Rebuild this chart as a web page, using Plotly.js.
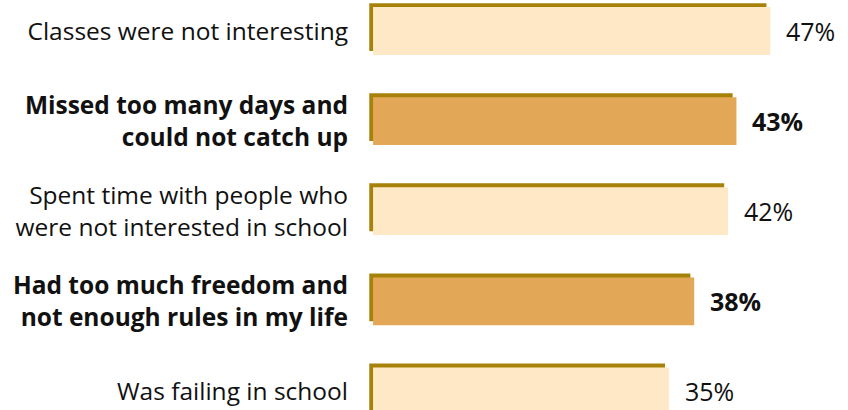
<!DOCTYPE html>
<html><head><meta charset="utf-8">
<script src="https://cdn.plot.ly/plotly-3.0.1.min.js"></script>
<style>body{margin:0;background:#fff}#c{width:848px;height:410px}</style>
</head><body><div id="c"></div>
<script>
const categories = ["Classes were not interesting","Missed too many days and<br>could not catch up","Spent time with people who<br>were not interested in school","Had too much freedom and<br>not enough rules in my life","Was failing in school"];
const values = [47, 43, 42, 38, 35];
const highlight = [false, true, false, true, false];
const valueLabels = ["47%","43%","42%","38%","35%"];

const FONT = "Open Sans, Noto Sans, sans-serif";
const lightC = "#FFE8C6", boldC = "#E3A857", edgeC = "#A7820A";
const ids = categories.map((c,i)=>"c"+i);
const tickText = categories.map((c,i)=> highlight[i] ? "<b>"+c.split("<br>").join("</b><br><b>")+"</b>" : c);

const edge = {type:"bar", orientation:"h", y:ids, x:values, base:values.map(()=>-0.45),
  width:0.53, offset:-0.265-0.044, marker:{color:edgeC, line:{width:0}}, hoverinfo:"skip"};
const main = {type:"bar", orientation:"h", y:ids, x:values, width:0.53,
  marker:{color:highlight.map(h=>h?boldC:lightC), line:{width:0}}, hoverinfo:"skip"};

const annotations = values.map((v,i)=>({x:v, y:ids[i], xref:"x", yref:"y", text: highlight[i]?"<b>"+valueLabels[i]+"</b>":valueLabels[i],
  showarrow:false, xanchor:"left", xshift:14, yshift:0, font:{family:FONT, size:25, color:"#111"}}));

Plotly.newPlot("c",[edge, main],{
  width:848, height:410, margin:{l:368,r:0,t:0,b:0},
  paper_bgcolor:"#fff", plot_bgcolor:"#fff", barmode:"overlay", showlegend:false,
  xaxis:{range:[-0.6,56.2], showgrid:false, zeroline:false, showticklabels:false, showline:false, fixedrange:true},
  yaxis:{type:"category", range:[4.206,-0.344], tickvals:ids, ticktext:tickText, showgrid:false, zeroline:false,
    showline:false, ticks:"", ticklabelstandoff:19, tickfont:{family:FONT, size:24.5, color:"#111"}},
  annotations
},{displayModeBar:false, staticPlot:true});
</script></body></html>
